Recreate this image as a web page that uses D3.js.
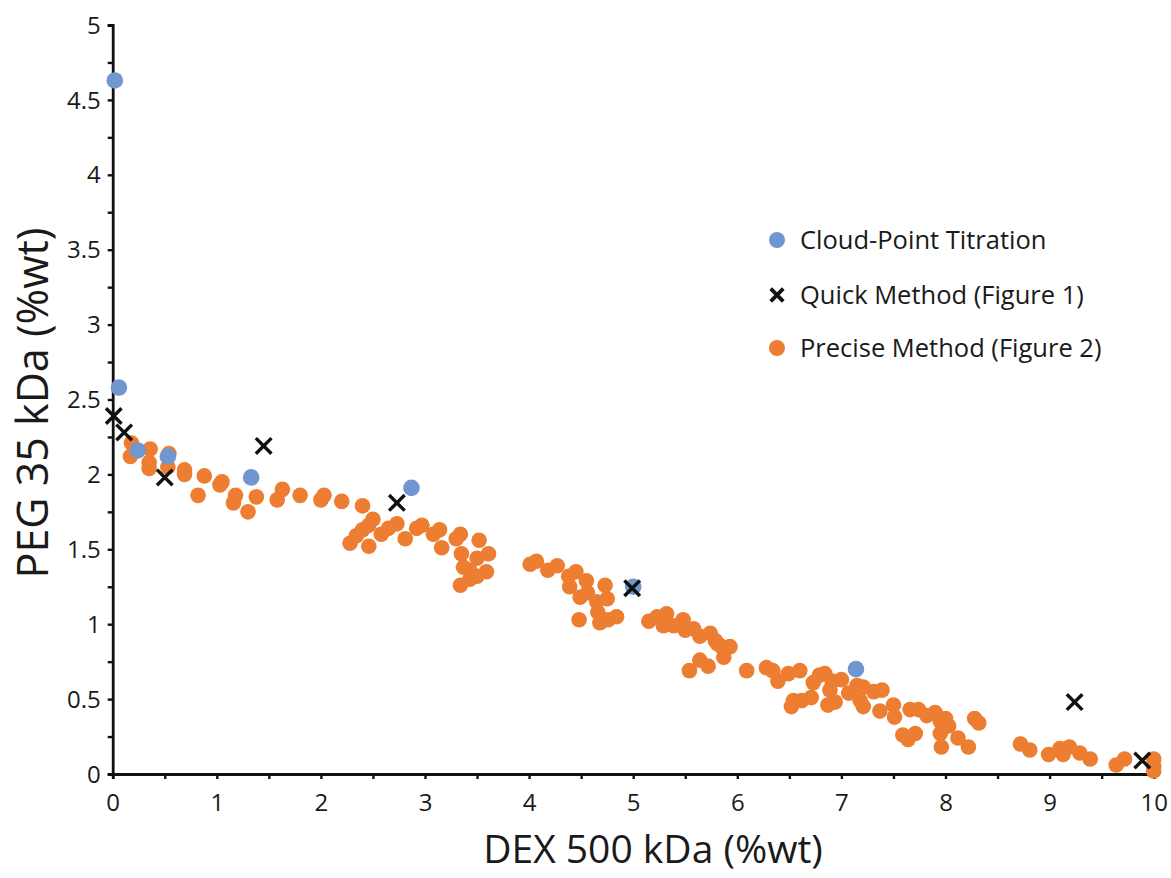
<!DOCTYPE html>
<html><head><meta charset="utf-8">
<script src="https://cdn.jsdelivr.net/npm/d3@7"></script>
<style>body{margin:0;background:#fff}svg{display:block}text{font-family:"Open Sans",Lato,sans-serif;fill:#1a1a1a}</style>
</head><body>
<svg id="c" width="1171" height="878"></svg>
<script>
const seriesNames = ["Cloud-Point Titration", "Quick Method (Figure 1)", "Precise Method (Figure 2)"];
const xTicks = [0,1,2,3,4,5,6,7,8,9,10];
const yTicks = [0,0.5,1,1.5,2,2.5,3,3.5,4,4.5,5];
const cloudX = [0.02,0.06,0.24,0.53,1.33,2.87,5.0,7.14];
const cloudY = [4.63,2.58,2.16,2.12,1.98,1.91,1.25,0.70];
const quickX = [0.01,0.11,0.50,1.45,2.73,4.99,9.24,9.89];
const quickY = [2.39,2.28,1.98,2.19,1.81,1.24,0.48,0.09];
const preciseX = [0.18,0.17,0.36,0.35,0.35,0.54,0.53,0.69,0.69,0.88,1.05,1.03,0.82,1.18,1.16,1.30,1.38,1.63,1.58,1.80,2.00,
 2.03,2.20,2.40,2.50,2.46,2.40,2.34,2.28,2.46,2.58,2.65,2.73,2.81,2.92,2.97,3.08,3.14,3.16,3.30,3.34,3.35,3.52,3.50,3.61,3.59,3.50,3.43,3.34,3.37,3.43,
 4.01,4.07,4.18,4.27,4.38,4.45,4.39,4.55,4.49,4.56,4.65,4.73,4.75,4.66,4.68,4.76,4.84,4.48,5.15,5.23,5.32,5.29,5.39,5.48,5.50,5.58,5.64,5.74,5.79,5.85,5.93,5.87,5.64,5.72,5.54,6.09,5.81,
 6.28,6.34,6.39,6.49,6.60,6.73,6.79,6.84,6.91,7.00,6.89,6.54,6.52,6.62,6.71,6.87,6.94,7.07,7.15,7.21,7.18,7.21,7.31,7.39,7.37,7.50,7.51,7.66,7.74,7.59,7.64,7.71,7.82,7.90,7.95,8.00,8.03,7.95,7.96,8.12,8.22,8.28,8.32,
 8.72,8.81,8.99,9.10,9.13,9.19,9.29,9.39,9.64,9.72,10.0,10.0,10.0];
const preciseY = [2.21,2.12,2.17,2.08,2.04,2.14,2.05,2.03,2.00,1.99,1.95,1.93,1.86,1.86,1.81,1.75,1.85,1.90,1.83,1.86,1.83,
 1.86,1.82,1.79,1.70,1.66,1.63,1.59,1.54,1.52,1.60,1.64,1.67,1.57,1.64,1.66,1.60,1.63,1.51,1.57,1.60,1.47,1.56,1.44,1.47,1.35,1.32,1.30,1.26,1.38,1.36,
 1.40,1.42,1.36,1.39,1.32,1.35,1.25,1.29,1.18,1.21,1.15,1.26,1.17,1.08,1.01,1.03,1.05,1.03,1.02,1.05,1.07,0.99,0.99,1.03,0.96,0.97,0.92,0.94,0.89,0.85,0.85,0.78,0.76,0.72,0.69,0.69,0.87,
 0.71,0.69,0.62,0.67,0.69,0.61,0.66,0.67,0.62,0.63,0.56,0.49,0.45,0.49,0.51,0.46,0.48,0.54,0.59,0.58,0.49,0.45,0.55,0.56,0.42,0.46,0.38,0.43,0.43,0.26,0.23,0.27,0.39,0.41,0.35,0.37,0.32,0.27,0.18,0.24,0.18,0.37,0.34,
 0.20,0.16,0.13,0.17,0.13,0.18,0.14,0.10,0.06,0.10,0.10,0.05,0.02];

const colors = {cloud:"#7097D0", quick:"#111", precise:"#ED7D31"};
const svg = d3.select("#c");
const x = d3.scaleLinear().domain([0,10]).range([112.7,1153.7]);
const y = d3.scaleLinear().domain([0,5]).range([774,25]);

// axes
const xAxis = d3.axisBottom(x).tickValues(d3.range(0,10.01,0.5)).tickSize(5).tickFormat(d => xTicks.includes(d) ? d : "");
const yAxis = d3.axisLeft(y).tickValues(d3.range(0,5.01,0.25)).tickSize(5).tickFormat(d => yTicks.includes(d) ? d : "");
const gx = svg.append("g").attr("transform","translate(0,774)").call(xAxis);
const gy = svg.append("g").attr("transform","translate(112.7,0)").call(yAxis);
[gx,gy].forEach(g=>{
  g.select(".domain").attr("stroke","#111").attr("stroke-width",2.8);
  g.selectAll(".tick line").attr("stroke","#111").attr("stroke-width",2.4);
  g.selectAll(".tick text").attr("font-size",24).attr("fill","#1a1a1a").attr("font-family","'Open Sans',sans-serif");
});
gx.selectAll(".tick text").attr("dy","0.95em").attr("y",14);
gy.selectAll(".tick text").attr("x",-12).attr("dy","0.34em");

// precise
const precise = preciseX.map((v,i)=>[v,preciseY[i]]);
svg.append("g").selectAll("circle").data(precise).join("circle")
  .attr("cx",d=>x(d[0])).attr("cy",d=>y(d[1])).attr("r",7.8).attr("fill",colors.precise);
// cloud
const cloud = cloudX.map((v,i)=>[v,cloudY[i]]);
svg.append("g").selectAll("circle").data(cloud).join("circle")
  .attr("cx",d=>x(d[0])).attr("cy",d=>y(d[1])).attr("r",8.3).attr("fill",colors.cloud);
// quick
const quick = quickX.map((v,i)=>[v,quickY[i]]);
const cross = (g,s)=> g.attr("d",`M${-s},${-s}L${s},${s}M${-s},${s}L${s},${-s}`);
svg.append("g").selectAll("path").data(quick).join("path")
  .attr("transform",d=>`translate(${x(d[0])},${y(d[1])})`)
  .call(cross,7.8).attr("stroke",colors.quick).attr("stroke-width",3.4).attr("fill","none");

// legend
const lg = svg.append("g");
const ly = [240,295,348];
lg.append("circle").attr("cx",777).attr("cy",ly[0]).attr("r",8).attr("fill",colors.cloud);
lg.append("path").attr("transform",`translate(777,${ly[1]})`).call(cross,6.3).attr("stroke",colors.quick).attr("stroke-width",3.8).attr("fill","none");
lg.append("circle").attr("cx",777).attr("cy",ly[2]).attr("r",8).attr("fill",colors.precise);
seriesNames.forEach((n,i)=>{
  lg.append("text").attr("x",800).attr("y",ly[i]).attr("dy","0.36em").attr("font-size",25.5).text(n);
});

// axis titles
svg.append("text").attr("x",653).attr("y",863).attr("text-anchor","middle").attr("font-size",39).text("DEX 500 kDa (%wt)");
svg.append("text").attr("transform","translate(48,403) rotate(-90)").attr("text-anchor","middle").attr("font-size",43).text("PEG 35 kDa (%wt)");
</script>
</body></html>
